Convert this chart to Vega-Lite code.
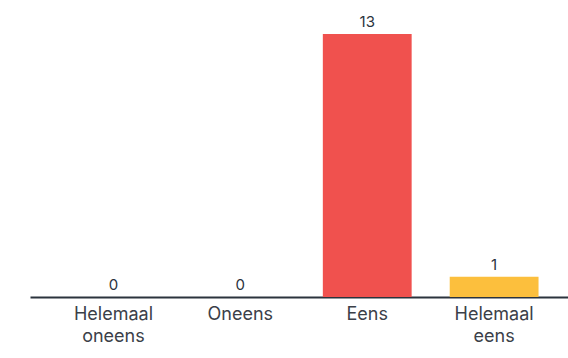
{
  "$schema": "https://vega.github.io/schema/vega-lite/v6.json",
  "autosize": "none",
  "width": 538,
  "height": 263,
  "padding": {"left": 30, "top": 34, "right": 0, "bottom": 61},
  "background": "white",
  "data": {"values": [
    {"label": "Helemaal oneens", "count": 0},
    {"label": "Oneens", "count": 0},
    {"label": "Eens", "count": 13},
    {"label": "Helemaal eens", "count": 1}
  ]},
  "config": {"view": {"stroke": null}, "font": "Inter"},
  "encoding": {
    "x": {"field": "label", "type": "nominal", "sort": null,
      "scale": {"paddingInner": 0.3, "paddingOuter": 0.27, "align": 0.57},
      "axis": {"title": null, "labelAngle": 0, "ticks": false, "domainColor": "#2b333d", "domainWidth": 2,
        "labelFontSize": 18, "labelColor": "#3b4048", "labelPadding": 8, "labelLineHeight": 22,
        "labelExpr": "split(datum.label, ' ')", "labelFont": "Inter"}},
    "y": {"field": "count", "type": "quantitative", "scale": {"domain": [0, 13], "nice": false}, "axis": null}
  },
  "layer": [
    {"mark": {"type": "bar"},
     "encoding": {"color": {"field": "label", "type": "nominal", "legend": null,
       "scale": {"domain": ["Helemaal oneens", "Oneens", "Eens", "Helemaal eens"], "range": ["#b3262b", "#f58a3c", "#f0514e", "#fcbf3d"]}}}},
    {"mark": {"type": "text", "baseline": "bottom", "dy": -4, "fontSize": 15, "color": "#2b333d", "font": "Inter"},
     "encoding": {"text": {"field": "count", "type": "quantitative"}}}
  ]
}
